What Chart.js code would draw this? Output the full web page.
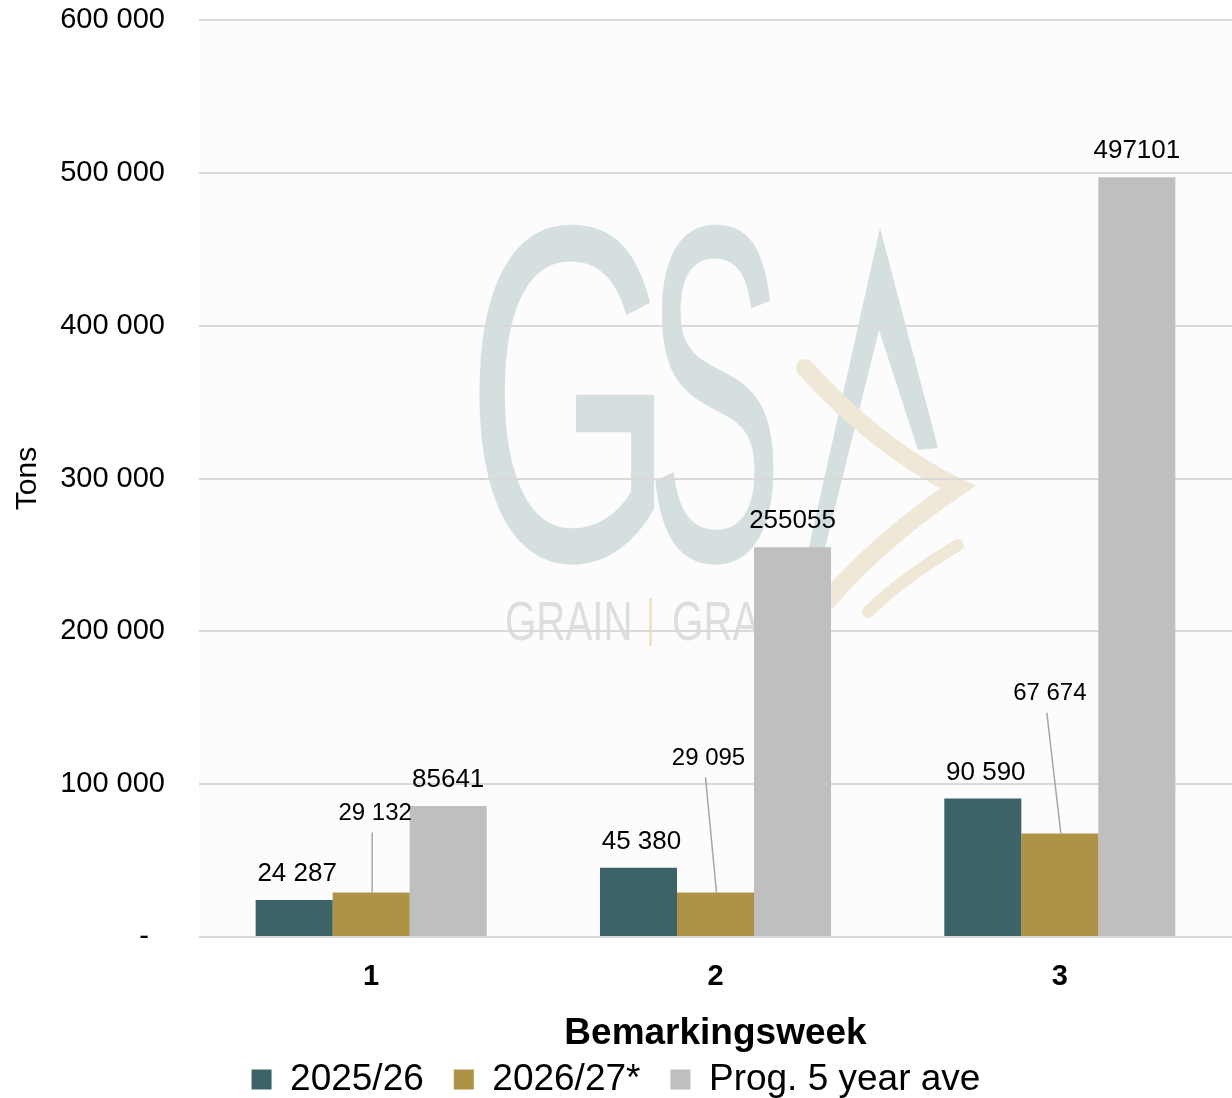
<!DOCTYPE html>
<html>
<head>
<meta charset="utf-8">
<script src="https://cdn.jsdelivr.net/npm/chart.js@4.4.1/dist/chart.umd.min.js"></script>
<style>
  html, body { margin: 0; padding: 0; background: #fff; }
  #wrap { width: 1232px; height: 1098px; }
</style>
</head>
<body>
<div id="wrap"><canvas id="chart" width="1232" height="1098"></canvas></div>
<script>
// data
const weeks = ['1', '2', '3'];
const season2526 = [24287, 45380, 90590];
const season2627 = [29132, 29095, 67674];
const prog5yr = [85641, 255055, 497101];
const seriesNames = ['2025/26', '2026/27*', 'Prog. 5 year ave'];
const yMax = 600000;
const yStep = 100000;

const FONT = '"Liberation Sans", Arial, sans-serif';
Chart.defaults.font.family = FONT;
Chart.defaults.color = '#000';

// 24287 -> "24 287"
function spaced(v) {
  return String(v).replace(/\B(?=(\d{3})+(?!\d))/g, ' ');
}

// light plot background + faint GSA watermark behind the grid
const backdrop = {
  id: 'backdrop',
  beforeDraw(chart) {
    const { ctx, chartArea: a } = chart;
    ctx.save();
    ctx.fillStyle = '#fcfcfc';
    ctx.fillRect(a.left, a.top, a.right - a.left, a.bottom - a.top);

    // "G" and "S"
    ctx.fillStyle = '#d5dfdf';
    ctx.font = '250px ' + FONT;
    ctx.textBaseline = 'alphabetic';
    ctx.save();
    ctx.translate(466, 560);
    ctx.scale(1.07, 1.92);
    ctx.fillText('G', 0, 0);
    ctx.restore();
    ctx.save();
    ctx.translate(646, 560);
    ctx.scale(0.82, 1.92);
    ctx.fillText('S', 0, 0);
    ctx.restore();
    // "A" spike
    ctx.beginPath();
    ctx.moveTo(880, 228);
    ctx.lineTo(938, 448);
    ctx.lineTo(918, 450);
    ctx.lineTo(879, 330);
    ctx.lineTo(822, 560);
    ctx.lineTo(806, 560);
    ctx.closePath();
    ctx.fill();
    // chevron
    ctx.strokeStyle = '#efe8d6';
    ctx.lineCap = 'round';
    ctx.lineWidth = 18;
    ctx.beginPath();
    ctx.moveTo(805, 368);
    ctx.quadraticCurveTo(880, 450, 958, 487);
    ctx.quadraticCurveTo(880, 540, 828, 600);
    ctx.stroke();
    ctx.lineWidth = 12;
    ctx.beginPath();
    ctx.moveTo(958, 545);
    ctx.quadraticCurveTo(900, 580, 868, 612);
    ctx.stroke();
    // "GRAIN | GRA"
    ctx.fillStyle = '#dedede';
    ctx.font = '56px ' + FONT;
    ctx.save();
    ctx.translate(505, 640);
    ctx.scale(0.72, 1);
    ctx.fillText('GRAIN', 0, 0);
    ctx.fillText('GRAAN', 232, 0);
    ctx.restore();
    ctx.fillStyle = '#efe3cc';
    ctx.fillRect(649, 598, 3, 48);
    ctx.restore();
  }
};

// value labels; the gold series sits higher with a leader line
const barLabels = {
  id: 'barLabels',
  afterDatasetsDraw(chart) {
    const ctx = chart.ctx;
    ctx.save();
    ctx.textAlign = 'center';
    ctx.textBaseline = 'middle';
    chart.data.datasets.forEach((ds, i) => {
      const meta = chart.getDatasetMeta(i);
      const st = ds.labelStyle;
      meta.data.forEach((bar, j) => {
        const v = ds.data[j];
        const txt = st.spaced ? spaced(v) : String(v);
        const off = st.offsets ? st.offsets[j] : [st.dx, -26];
        const tx = bar.x + off[0];
        const ty = bar.y + off[1];
        if (st.offsets) {
          ctx.strokeStyle = '#a6a6a6';
          ctx.lineWidth = 1.5;
          ctx.beginPath();
          ctx.moveTo(tx - 3, ty + 19);
          ctx.lineTo(bar.x + 1, bar.y);
          ctx.stroke();
        }
        ctx.fillStyle = '#000';
        ctx.font = st.size + 'px ' + FONT;
        ctx.fillText(txt, tx, ty);
      });
    });
    ctx.restore();
  }
};

new Chart(document.getElementById('chart'), {
  type: 'bar',
  data: {
    labels: weeks,
    datasets: [
      {
        label: seriesNames[0],
        data: season2526,
        backgroundColor: '#3c6367',
        labelStyle: { spaced: true, size: 26, dx: 3 }
      },
      {
        label: seriesNames[1],
        data: season2627,
        backgroundColor: '#ae9346',
        labelStyle: { spaced: true, size: 24, offsets: [[4, -79], [-7, -134], [-10, -140]] }
      },
      {
        label: seriesNames[2],
        data: prog5yr,
        backgroundColor: '#bfbfbf',
        labelStyle: { spaced: false, size: 26, dx: 0 }
      }
    ]
  },
  options: {
    responsive: false,
    animation: false,
    layout: { padding: { top: 20, right: 0, bottom: -10, left: 0 } },
    datasets: { bar: { categoryPercentage: 0.671, barPercentage: 1 } },
    plugins: {
      legend: {
        position: 'bottom',
        labels: {
          boxWidth: 20,
          boxHeight: 20,
          padding: 30,
          color: '#000',
          font: { size: 37 }
        }
      },
      tooltip: { enabled: false }
    },
    scales: {
      x: {
        grid: { display: false },
        border: { display: false },
        ticks: { padding: 15, color: '#000', font: { size: 29, weight: 'bold' } },
        title: {
          display: true,
          text: 'Bemarkingsweek',
          color: '#000',
          font: { size: 37, weight: 'bold' },
          padding: { top: 0, bottom: -25 }
        },
        afterFit(scale) { scale.height = 94; }
      },
      y: {
        min: 0,
        max: yMax,
        ticks: {
          stepSize: yStep,
          padding: 34,
          color: '#000',
          font: { size: 29 },
          callback: v => (v === 0 ? '-  ' : spaced(v))
        },
        grid: { color: '#d9d9d9', lineWidth: 2, drawTicks: false },
        border: { display: false },
        title: {
          display: true,
          text: 'Tons',
          color: '#000',
          font: { size: 30 },
          padding: { top: 10, bottom: 0 }
        },
        afterFit(scale) {
          scale.width = 199;
          scale.paddingTop = 0;
          scale.paddingBottom = 0;
        }
      }
    }
  },
  plugins: [backdrop, barLabels]
});
</script>
</body>
</html>
